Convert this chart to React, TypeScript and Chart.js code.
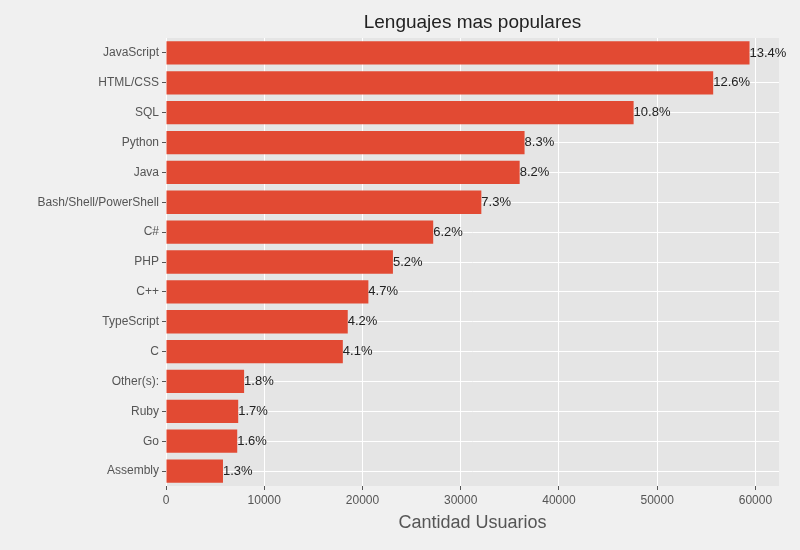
import { useEffect, useRef } from "react"
import { Chart, registerables } from "chart.js"

Chart.register(...registerables)

const languages = [
  "JavaScript", "HTML/CSS", "SQL", "Python", "Java", "Bash/Shell/PowerShell", "C#",
  "PHP", "C++", "TypeScript", "C", "Other(s):", "Ruby", "Go", "Assembly",
]
const users = [59400, 55700, 47600, 36500, 36000, 32100, 27200, 23100, 20600, 18500, 18000, 7950, 7350, 7250, 5800]
const percents = ["13.4%", "12.6%", "10.8%", "8.3%", "8.2%", "7.3%", "6.2%", "5.2%", "4.7%", "4.2%", "4.1%", "1.8%", "1.7%", "1.6%", "1.3%"]
const xTicks = [0, 10000, 20000, 30000, 40000, 50000, 60000]

const FONT = "Liberation Sans"

const panelBg = {
  id: "panelBg",
  beforeDraw(chart: Chart) {
    const { ctx, chartArea: a } = chart
    ctx.save()
    ctx.fillStyle = "#E5E5E5"
    ctx.fillRect(a.left, a.top, a.right - a.left, a.bottom - a.top)
    ctx.restore()
  },
  afterDraw(chart: Chart) {
    const { ctx, chartArea: a } = chart
    ctx.save()
    ctx.font = `19px '${FONT}'`
    ctx.fillStyle = "#222"
    ctx.textAlign = "center"
    ctx.textBaseline = "bottom"
    ctx.fillText("Lenguajes mas populares", (a.left + a.right) / 2, a.top - 6)
    ctx.restore()
  },
}

const barLabels = {
  id: "barLabels",
  afterDatasetsDraw(chart: Chart) {
    const { ctx } = chart
    const meta = chart.getDatasetMeta(0)
    ctx.save()
    ctx.font = `13px '${FONT}'`
    ctx.fillStyle = "#222"
    ctx.textBaseline = "middle"
    meta.data.forEach((bar: any, i: number) => {
      ctx.fillText(percents[i], bar.x, bar.y)
    })
    ctx.restore()
  },
}

export default function App() {
  const ref = useRef<HTMLCanvasElement>(null)

  useEffect(() => {
    document.body.style.margin = "0"
    document.body.style.background = "#F0F0F0"
    if (!ref.current) return
    const chart = new Chart(ref.current, {
      type: "bar",
      data: {
        labels: languages,
        datasets: [{ data: users, backgroundColor: "#E24A33", barPercentage: 0.78, categoryPercentage: 1 }],
      },
      options: {
        indexAxis: "y",
        animation: false,
        responsive: false,
        layout: { padding: { top: 38, right: 21, bottom: 12 } },
        plugins: {
          legend: { display: false },
          tooltip: { enabled: false },
        },
        scales: {
          x: {
            min: 0,
            max: 62400,
            afterBuildTicks: (s: any) => { s.ticks = xTicks.map((v) => ({ value: v })) },
            ticks: { color: "#555", font: { family: FONT, size: 12 }, callback: (v: any) => String(v) },
            grid: { color: "#FFFFFF", lineWidth: 1, tickColor: "#555", tickLength: 4 },
            border: { display: false },
            title: {
              display: true,
              text: "Cantidad Usuarios",
              color: "#555",
              font: { family: FONT, size: 18 },
              padding: { top: 2 },
            },
          },
          y: {
            ticks: { color: "#555", font: { family: FONT, size: 12 } },
            grid: { color: "#FFFFFF", lineWidth: 1, tickColor: "#555", tickLength: 4, offset: false },
            border: { display: false },
            afterFit: (s: any) => { s.width = 166 },
          },
        },
      },
      plugins: [panelBg, barLabels],
    })
    return () => chart.destroy()
  }, [])

  return <canvas ref={ref} width={800} height={550} style={{ display: "block" }} />
}
